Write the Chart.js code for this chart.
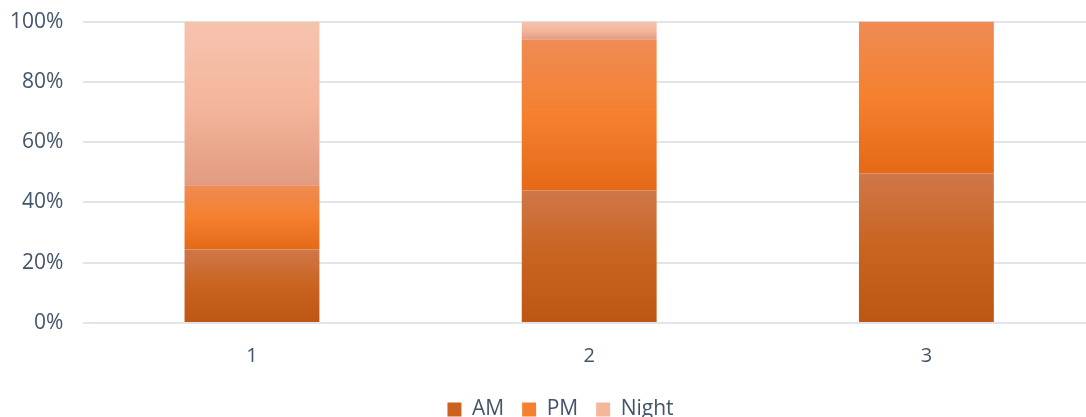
<!DOCTYPE html>
<html>
<head>
<meta charset="utf-8">
<script src="https://cdn.jsdelivr.net/npm/chart.js@4"></script>
<style>
  html, body { margin: 0; padding: 0; background: #fff; overflow: hidden; }
  #wrap { width: 1113px; height: 441px; position: absolute; left: -17px; top: -11px; }
</style>
</head>
<body>
<div id="wrap"><canvas id="chart1"></canvas></div>
<script>
// share of each period per group, in percent
const categories = ['1', '2', '3'];
const amValues = [24.4, 44.0, 49.6];
const pmValues = [21.3, 50.0, 50.4];
const nightValues = [54.3, 6.0, 0];
const yTicks = [0, 20, 40, 60, 80, 100];

const stackOrder = [amValues, pmValues, nightValues];

// top / middle / bottom colours of each segment's fill
const shades = [
  ['#cf7749', '#c9631f', '#bd5612'],
  ['#ef8b54', '#f5802e', '#e56916'],
  ['#f6c3af', '#f5b69c', '#e19b80']
];

function segmentFill(series) {
  return function (ctx) {
    const c = shades[series];
    const chart = ctx.chart;
    const y = chart.scales && chart.scales.y;
    if (ctx.type !== 'data' || !y || !chart.chartArea) return c[1];
    let base = 0;
    for (let s = 0; s < series; s++) base += stackOrder[s][ctx.dataIndex];
    const top = base + stackOrder[series][ctx.dataIndex];
    const y0 = y.getPixelForValue(top);
    const y1 = y.getPixelForValue(base);
    if (!isFinite(y0) || !isFinite(y1) || y0 === y1) return c[1];
    const g = chart.ctx.createLinearGradient(0, y0, 0, y1);
    g.addColorStop(0, c[0]);
    g.addColorStop(0.5, c[1]);
    g.addColorStop(1, c[2]);
    return g;
  };
}

// nudge the legend a little right of the canvas centre
const legendShift = {
  id: 'legendShift',
  afterLayout(chart) {
    if (!chart.legend) return;
    chart.legend.left += 18;
    chart.legend.right += 18;
  }
};

const textColor = '#44546a';
const fontFamily = "'Open Sans', 'Liberation Sans', sans-serif";

const config = {
  type: 'bar',
  data: {
    labels: categories,
    datasets: [
      { label: 'AM', data: amValues, backgroundColor: segmentFill(0), borderWidth: 0 },
      { label: 'PM', data: pmValues, backgroundColor: segmentFill(1), borderWidth: 0 },
      { label: 'Night', data: nightValues, backgroundColor: segmentFill(2), borderWidth: 0 }
    ]
  },
  options: {
    responsive: true,
    maintainAspectRatio: false,
    animation: false,
    layout: { padding: { left: 7, top: 0, right: 1, bottom: 0 } },
    datasets: { bar: { barPercentage: 0.4, categoryPercentage: 1.0 } },
    scales: {
      x: {
        stacked: true,
        grid: { display: false },
        border: { display: false },
        ticks: { color: textColor, font: { family: fontFamily, size: 20 }, padding: 13 }
      },
      y: {
        stacked: true,
        min: 0,
        max: 100,
        afterBuildTicks: (axis) => { axis.ticks = yTicks.map(v => ({ value: v })); },
        grid: { color: '#e1e4e8', lineWidth: 2, drawTicks: false },
        border: { display: false },
        ticks: {
          color: textColor,
          font: { family: fontFamily, size: 21 },
          padding: 20,
          callback: (v) => v + '%'
        }
      }
    },
    plugins: {
      tooltip: { enabled: false },
      legend: {
        position: 'bottom',
        labels: {
          color: textColor,
          font: { family: fontFamily, size: 21 },
          boxWidth: 14,
          boxHeight: 14,
          padding: 18,
          generateLabels: (chart) => chart.data.datasets.map((ds, i) => ({
            text: ds.label,
            fillStyle: shades[i][1],
            strokeStyle: shades[i][1],
            lineWidth: 0,
            fontColor: textColor,
            datasetIndex: i
          }))
        }
      }
    }
  },
  plugins: [legendShift]
};

const myChart = new Chart(document.getElementById('chart1'), config);
</script>
</body>
</html>
